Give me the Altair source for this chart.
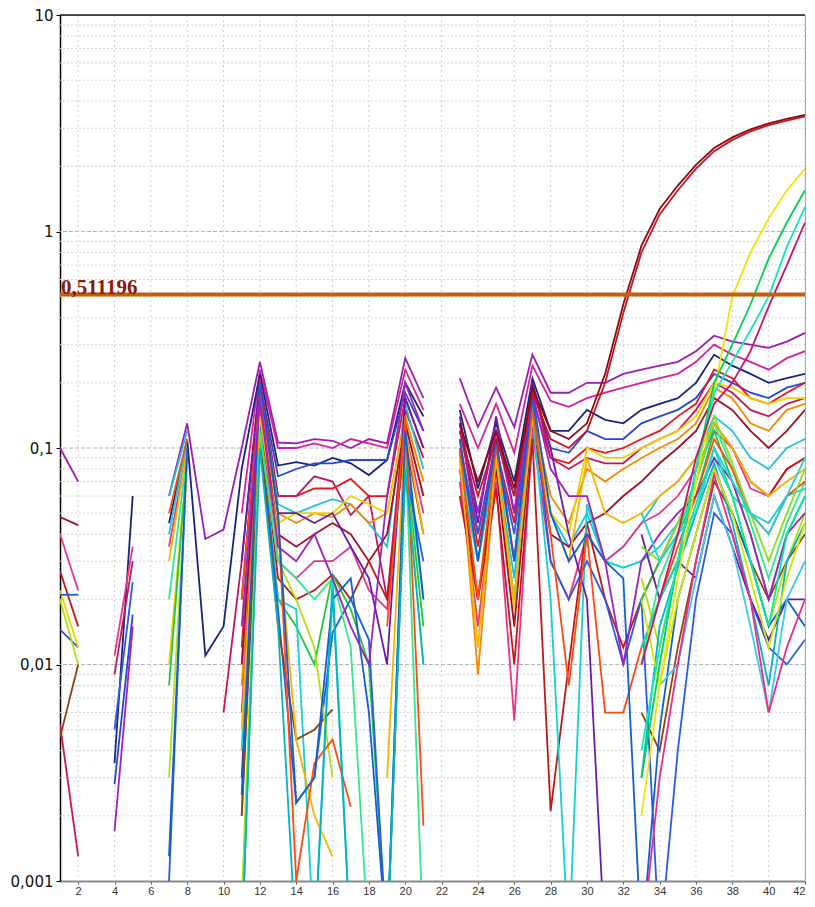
import altair as alt
import pandas as pd

# ---- data: each series = {start_cycle: [consecutive fluorescence values]} ----
s01 = {1: [0.1, 0.07], 7: [0.06, 0.13, 0.038, 0.042, 0.1, 0.25, 0.106, 0.105, 0.11, 0.108, 0.1, 0.11, 0.105, 0.26, 0.17],
       23: [0.21, 0.125, 0.19, 0.125, 0.27, 0.18, 0.18, 0.2, 0.2, 0.22, 0.23, 0.24, 0.25, 0.28, 0.33, 0.31, 0.3, 0.29, 0.31, 0.34]}
s02 = {11: [0.05, 0.23, 0.1, 0.1, 0.105, 0.1, 0.11, 0.105, 0.1, 0.23, 0.15],
       23: [0.16, 0.1, 0.16, 0.095, 0.24, 0.165, 0.155, 0.17, 0.18, 0.19, 0.2, 0.21, 0.22, 0.25, 0.3, 0.27, 0.25, 0.23, 0.26, 0.28]}
s03 = {4: [0.0035, 0.06], 7: [0.045, 0.11, 0.011, 0.015, 0.08, 0.22, 0.083, 0.086, 0.083, 0.09, 0.085, 0.075, 0.088, 0.2, 0.14],
       23: [0.15, 0.065, 0.13, 0.07, 0.21, 0.12, 0.12, 0.15, 0.135, 0.13, 0.15, 0.16, 0.17, 0.2, 0.27, 0.24, 0.22, 0.2, 0.21, 0.22]}
s04 = {1: [0.0145, 0.012], 4: [0.0028, 0.017], 11: [0.02, 0.2, 0.074, 0.08, 0.085, 0.085, 0.088, 0.088, 0.088, 0.18, 0.12],
       23: [0.12, 0.05, 0.12, 0.06, 0.19, 0.1, 0.095, 0.12, 0.11, 0.11, 0.13, 0.14, 0.15, 0.17, 0.22, 0.2, 0.18, 0.17, 0.19, 0.2]}
s05 = {11: [0.012, 0.17, 0.06, 0.06, 0.065, 0.065, 0.072, 0.06, 0.06, 0.17, 0.1],
       23: [0.11, 0.035, 0.1, 0.045, 0.17, 0.09, 0.085, 0.1, 0.095, 0.1, 0.11, 0.12, 0.14, 0.16, 0.23, 0.21, 0.17, 0.16, 0.18, 0.2]}
s06 = {1: [0.0053, 0.0013], 4: [0.009, 0.03], 10: [0.006, 0.03, 0.21, 0.06, 0.06, 0.074, 0.07, 0.049, 0.06, 0.02, 0.15, 0.09],
       23: [0.13, 0.04, 0.11, 0.03, 0.2, 0.09, 0.08, 0.09, 0.085, 0.085, 0.1, 0.11, 0.12, 0.15, 0.2, 0.18, 0.15, 0.14, 0.16, 0.17]}
s07 = {7: [0.06, 0.12], 11: [0.01, 0.19, 0.055, 0.05, 0.054, 0.058, 0.055, 0.045, 0.035, 0.16, 0.08],
       23: [0.1, 0.03, 0.09, 0.025, 0.16, 0.05, 0.035, 0.05, 0.03, 0.035, 0.045, 0.06, 0.07, 0.09, 0.14, 0.12, 0.09, 0.08, 0.1, 0.11]}
s08 = {11: [0.008, 0.16, 0.05, 0.045, 0.05, 0.048, 0.055, 0.045, 0.05, 0.14, 0.07],
       23: [0.095, 0.009, 0.085, 0.02, 0.15, 0.06, 0.045, 0.08, 0.07, 0.08, 0.09, 0.1, 0.11, 0.13, 0.19, 0.17, 0.13, 0.12, 0.15, 0.16]}
s09 = {1: [0.022, 0.012], 7: [0.01, 0.09], 11: [0.004, 0.15, 0.045, 0.05, 0.05, 0.05, 0.06, 0.055, 0.05, 0.13, 0.06],
       23: [0.09, 0.015, 0.09, 0.018, 0.14, 0.05, 0.04, 0.1, 0.09, 0.09, 0.1, 0.11, 0.12, 0.14, 0.2, 0.19, 0.17, 0.16, 0.17, 0.17]}
s10 = {1: [0.048, 0.044], 11: [0.01, 0.16, 0.04, 0.035, 0.04, 0.045, 0.04, 0.03, 0.04, 0.13, 0.06],
       23: [0.08, 0.02, 0.08, 0.015, 0.13, 0.04, 0.035, 0.045, 0.05, 0.06, 0.07, 0.085, 0.1, 0.12, 0.17, 0.15, 0.12, 0.1, 0.12, 0.15]}
s11 = {1: [0.04, 0.022], 4: [0.011, 0.035], 7: [0.035, 0.1], 11: [0.006, 0.15, 0.03, 0.025, 0.03, 0.03, 0.035, 0.022, 0.018, 0.12, 0.05],
       23: [0.07, 0.015, 0.07, 0.0055, 0.12, 0.03, 0.02, 0.04, 0.03, 0.035, 0.045, 0.05, 0.06, 0.08, 0.12, 0.1, 0.065, 0.06, 0.08, 0.09]}
s12 = {1: [0.027, 0.015], 11: [0.003, 0.14, 0.025, 0.02, 0.022, 0.026, 0.02, 0.03, 0.02, 0.11, 0.04],
       23: [0.06, 0.02, 0.065, 0.01, 0.11, 0.0021, 0.01, 0.045, 0.02, 0.012, 0.02, 0.03, 0.045, 0.07, 0.13, 0.1, 0.07, 0.06, 0.08, 0.09]}
s13 = {7: [0.008, 0.09], 11: [0.0005, 0.12, 0.02, 0.015, 0.01, 0.026, 0.018, 0.01, 0.0005, 0.09, 0.015],
       33: [0.02, 0.03, 0.04, 0.06, 0.12, 0.07, 0.04, 0.02, 0.04, 0.06]}
s14 = {7: [0.04, 0.11], 11: [0.004, 0.12, 0.02, 0.018, 0.0005, 0.025, 0.0005, 0.0005, 0.0005, 0.1, 0.02],
       23: [0.08, 0.03, 0.09, 0.02, 0.14, 0.02, 0.0005, 0.055, 0.03, 0.028, 0.03, 0.035, 0.045, 0.06, 0.09, 0.06, 0.05, 0.045, 0.06, 0.065]}
s15 = {4: [0.005, 0.024], 7: [0.001, 0.1], 11: [0.002, 0.13, 0.018, 0.0023, 0.003, 0.014, 0.02, 0.013, 0.0005, 0.08, 0.03],
       23: [0.1, 0.04, 0.1, 0.04, 0.17, 0.03, 0.02, 0.03, 0.02, 0.01, 0.02, 0.0005, 0.004, 0.02, 0.05, 0.04, 0.02, 0.012, 0.01, 0.013]}
s16 = {1: [0.0046, 0.01], 11: [0.002, 0.12, 0.015, 0.0045, 0.005, 0.0062],
       33: [0.006, 0.004, 0.012, 0.03, 0.07, 0.05, 0.03, 0.02, 0.03, 0.04]}
s17 = {1: [0.02, 0.01], 7: [0.003, 0.085], 11: [0.0008, 0.12, 0.03, 0.02, 0.012, 0.003], 19: [0.0005, 0.09, 0.01],
       33: [0.025, 0.012, 0.03, 0.05, 0.1, 0.06, 0.03, 0.015, 0.03, 0.05]}
s18 = {11: [0.03, 0.2, 0.05, 0.05, 0.045, 0.05, 0.035, 0.025, 0.01, 0.17, 0.1],
       23: [0.14, 0.045, 0.14, 0.05, 0.2, 0.1, 0.04, 0.02, 0.0005],
       33: [0.04, 0.02, 0.03, 0.025, 0.06, 0.035, 0.02, 0.013, 0.02, 0.02]}
s19 = {7: [0.02, 0.095], 11: [0.0005, 0.12, 0.03, 0.025, 0.02, 0.025, 0.012, 0.0005, 0.0005, 0.11, 0.0005],
       33: [0.01, 0.025, 0.04, 0.07, 0.13, 0.08, 0.045, 0.025, 0.045, 0.07]}
s20 = {7: [0.03, 0.1], 11: [0.005, 0.14, 0.04, 0.0045, 0.002, 0.0013], 19: [0.003, 0.12, 0.04],
       23: [0.09, 0.012, 0.09, 0.02, 0.14, 0.05, 0.03, 0.09, 0.05, 0.045, 0.05, 0.06, 0.07, 0.09, 0.13, 0.1, 0.07, 0.06, 0.07, 0.08]}
s21 = {7: [0.05, 0.11], 11: [0.02, 0.18, 0.05, 0.001, 0.0035, 0.0045, 0.0022], 19: [0.015, 0.14, 0.0018],
       23: [0.1, 0.02, 0.1, 0.03, 0.15, 0.04, 0.008, 0.04, 0.006, 0.006, 0.012, 0.02, 0.035, 0.06, 0.11, 0.08, 0.05, 0.04, 0.06, 0.07]}
s22 = {1: [0.021, 0.021], 7: [0.0013, 0.1], 11: [0.0025, 0.2, 0.05, 0.0023, 0.003, 0.02, 0.025, 0.006, 0.0005, 0.12, 0.02],
       23: [0.11, 0.03, 0.11, 0.03, 0.18, 0.05, 0.03, 0.04, 0.03, 0.025, 0.0005, 0.005, 0.02, 0.04, 0.08, 0.05, 0.03, 0.015, 0.02, 0.015]}
s23 = {11: [0.0005, 0.1, 0.015, 0.0005, 0.0005, 0.022, 0.0005], 19: [0.0005, 0.08, 0.01],
       33: [0.003, 0.015, 0.028, 0.05, 0.085, 0.045, 0.02, 0.008, 0.03, 0.045]}
s24 = {4: [0.0017, 0.015], 11: [0.015, 0.17, 0.035, 0.03, 0.04, 0.025, 0.015, 0.01, 0.06, 0.2, 0.12],
       23: [0.13, 0.05, 0.12, 0.05, 0.18, 0.08, 0.06, 0.06, 0.03, 0.01, 0.03, 0.04, 0.05, 0.06, 0.09, 0.07, 0.04, 0.02, 0.04, 0.05]}
s25 = {33: [0.035, 0.03, 0.045, 0.07, 0.14, 0.085, 0.05, 0.03, 0.05, 0.08]}
s26 = {33: [0.012, 0.02, 0.03, 0.055, 0.1, 0.06, 0.03, 0.015, 0.04, 0.06]}
s27 = {34: [0.008, 0.01, 0.025, 0.06, 0.035, 0.015, 0.006, 0.02, 0.03]}
s28 = {33: [0.02, 0.008, 0.02, 0.04, 0.08, 0.05, 0.025, 0.012, 0.025, 0.045]}
s29 = {33: [0.05, 0.03, 0.04, 0.05, 0.1, 0.07, 0.05, 0.04, 0.06, 0.09]}
s30 = {33: [0.0005, 0.003, 0.01, 0.03, 0.075, 0.04, 0.02, 0.006, 0.012, 0.02]}
# amplifying samples
a1 = {23: [0.12, 0.06, 0.11, 0.06, 0.18, 0.11, 0.1, 0.12, 0.2, 0.42, 0.8, 1.2, 1.55, 1.95, 2.35, 2.65, 2.9, 3.1, 3.25, 3.4]}
a2 = {23: [0.13, 0.07, 0.12, 0.065, 0.19, 0.12, 0.11, 0.13, 0.22, 0.46, 0.86, 1.27, 1.63, 2.03, 2.43, 2.72, 2.96, 3.16, 3.31, 3.46]}
a3 = {33: [0.002, 0.008, 0.025, 0.07, 0.18, 0.5, 0.8, 1.15, 1.55, 1.95]}
a4 = {33: [0.003, 0.01, 0.03, 0.08, 0.2, 0.3, 0.46, 0.75, 1.1, 1.55]}
a5 = {33: [0.004, 0.012, 0.03, 0.08, 0.18, 0.25, 0.35, 0.5, 0.85, 1.3]}
a6 = {33: [0.01, 0.02, 0.04, 0.09, 0.16, 0.2, 0.28, 0.45, 0.7, 1.1]}

series = [
    ("s01", "#9c1cb4", s01), ("s02", "#d6209a", s02), ("s03", "#1a237e", s03), ("s04", "#2845d8", s04),
    ("s05", "#e8141a", s05), ("s06", "#c2185b", s06), ("s07", "#1ec0e0", s07), ("s08", "#f58a00", s08),
    ("s09", "#ecd400", s09), ("s10", "#a01028", s10), ("s11", "#e8358a", s11), ("s12", "#c01818", s12),
    ("s13", "#1ec83c", s13), ("s14", "#14d0d0", s14), ("s15", "#2a5ae8", s15), ("s16", "#8b4513", s16),
    ("s17", "#b0e010", s17), ("s18", "#6a1ba8", s18), ("s19", "#30e890", s19), ("s20", "#f8b400", s20),
    ("s21", "#ff4a10", s21), ("s22", "#1260d0", s22), ("s23", "#00b4c8", s23), ("s24", "#a020c0", s24),
    ("s25", "#88e020", s25), ("s26", "#00e8a8", s26), ("s27", "#3cc8f8", s27), ("s28", "#d0e800", s28),
    ("s29", "#20d0e0", s29), ("s30", "#ec2c84", s30),
    ("a1", "#c8141e", a1), ("a2", "#8e0a14", a2), ("a3", "#ece600", a3), ("a4", "#00d050", a4),
    ("a5", "#10e8b8", a5), ("a6", "#c81070", a6),
]

threshold = 0.511196
threshold_label = "0,511196"
y_ticks = [0.001, 0.01, 0.1, 1, 10]
x_ticks = list(range(2, 43, 2))

# ---- build long table, splitting each series into contiguous segments ----
rows = []
for name, color, runs in series:
    arr = [None] * 44
    for start, vals in runs.items():
        for i, v in enumerate(vals):
            arr[start + i] = v
    seg = 0
    prev = False
    for c in range(1, 43):
        v = arr[c]
        if v is None:
            prev = False
            continue
        if not prev:
            seg += 1
        prev = True
        rows.append({"cycle": c, "value": v, "series": name, "seg": f"{name}_{seg}"})
df = pd.DataFrame(rows)

names = [s[0] for s in series]
colors = [s[1] for s in series]

xscale = alt.Scale(domain=[1, 42], nice=False, zero=False)
yscale = alt.Scale(type="log", domain=[0.001, 10], nice=False)
xaxis = alt.Axis(values=x_ticks, title=None, grid=False, domainColor="#8a8a8a", domainWidth=2,
                 tickColor="#555", tickSize=3, labelFont="Liberation Sans", labelFontSize=11,
                 labelColor="#333", labelPadding=1)
yaxis = alt.Axis(values=y_ticks, title=None, grid=False, domainColor="#000", domainWidth=1.5,
                 tickColor="#000", tickSize=4, labelFont="DejaVu Sans", labelFontSize=15,
                 labelColor="#111", labelPadding=3,
                 labelExpr="replace(toString(datum.value), '.', ',')")

minor_vals = [m * 10 ** e for e in (-3, -2, -1, 0) for m in range(2, 10)]
grid_minor = alt.Chart(pd.DataFrame({"v": minor_vals})).mark_rule(
    color="#d9d9d9", strokeDash=[2, 2], strokeWidth=1).encode(y=alt.Y("v:Q", scale=yscale, axis=yaxis))
grid_major = alt.Chart(pd.DataFrame({"v": [0.01, 0.1, 1]})).mark_rule(
    color="#b5b5b5", strokeDash=[4, 2], strokeWidth=1).encode(y=alt.Y("v:Q", scale=yscale, axis=yaxis))
grid_x = alt.Chart(pd.DataFrame({"c": x_ticks})).mark_rule(
    color="#d0d0d0", strokeDash=[2, 3], strokeWidth=1).encode(x=alt.X("c:Q", scale=xscale, axis=xaxis))
top_line = alt.Chart(pd.DataFrame({"v": [10]})).mark_rule(color="#222", strokeWidth=1.5).encode(
    y=alt.Y("v:Q", scale=yscale, axis=yaxis))

lines = alt.Chart(df).mark_line(strokeWidth=1.8, clip=True).encode(
    x=alt.X("cycle:Q", scale=xscale, axis=xaxis),
    y=alt.Y("value:Q", scale=yscale, axis=yaxis),
    color=alt.Color("series:N", scale=alt.Scale(domain=names, range=colors), legend=None),
    detail="seg:N",
    order="cycle:Q",
)

thr_df = pd.DataFrame({"c": [1], "t": [threshold], "label": [threshold_label]})
thr_rule = alt.Chart(thr_df).mark_rule(color="#c4600c", strokeWidth=4).encode(
    y=alt.Y("t:Q", scale=yscale, axis=yaxis))
thr_text = alt.Chart(thr_df).mark_text(align="left", baseline="bottom", dx=1, dy=3,
                                       font="Liberation Serif", fontSize=21, fontWeight="bold",
                                       color="#8b1a0a").encode(
    x=alt.X("c:Q", scale=xscale, axis=xaxis), y=alt.Y("t:Q", scale=yscale, axis=yaxis), text="label:N")

chart = alt.layer(grid_minor, grid_major, grid_x, top_line, lines, thr_rule, thr_text).properties(
    width=745, height=866,
    autosize=alt.AutoSizeParams(type="none"),
    padding={"left": 52, "top": 7, "right": 2, "bottom": 14},
    background="white",
).configure_view(stroke="#9a9a9a", strokeWidth=1)

chart.save("out.html", embed_options={"renderer": "svg", "actions": False})
